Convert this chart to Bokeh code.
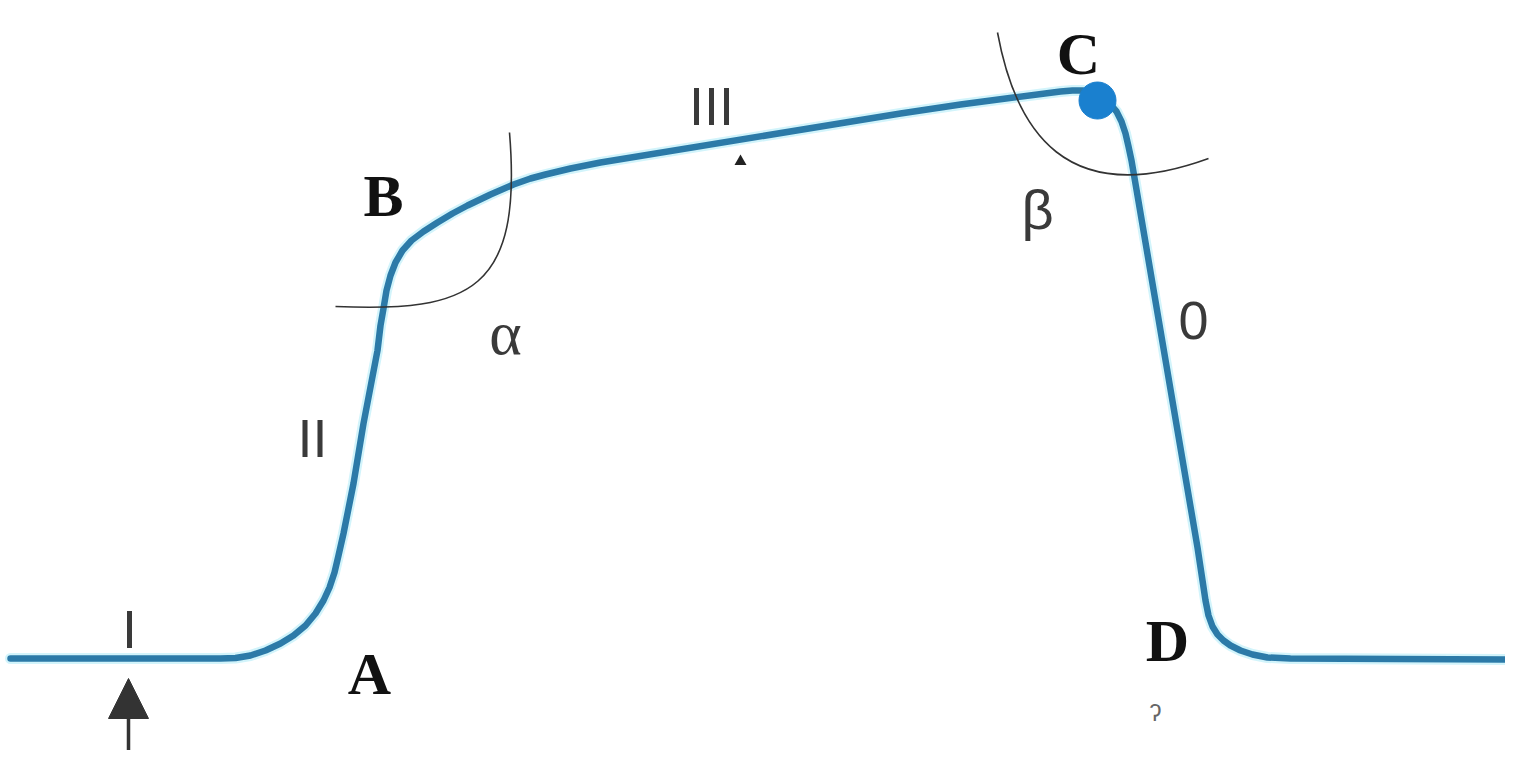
from bokeh.plotting import figure
from bokeh.models import Range1d, Arrow, NormalHead
from bokeh.core.properties import value
from bokeh.embed import file_html
from bokeh.resources import INLINE

# main trace (diagram coordinates, y grows downward)
curve_x = [10, 220, 235, 250, 265, 280, 293, 305, 315, 323, 329, 334, 338, 343, 353, 363,
           377, 380, 383, 386, 390, 395, 402, 411, 423, 437, 452, 467, 490, 513, 530, 545,
           570, 600, 900, 960, 1013, 1060, 1072, 1082, 1092, 1101, 1109, 1116, 1121, 1125,
           1128, 1131, 1137, 1177, 1197, 1202, 1205, 1208, 1212, 1217, 1223, 1230, 1240,
           1252, 1267, 1290, 1512]
curve_y = [658, 658, 657.5, 655, 650, 643, 635, 625, 613, 600, 587, 572, 555, 533, 483, 423,
           350, 325, 308, 290, 275, 262, 250, 240, 231, 222, 213, 205, 194, 184, 178, 174,
           168, 162, 113, 104, 97, 91, 90, 90, 92, 97, 103, 111, 121, 133,
           146, 160, 195, 430, 547, 580, 600, 615, 626, 634, 640, 645, 650,
           654, 657, 658, 659]

# end-tidal point C
dot_x = [1097]
dot_y = [100]

# angle arcs (cubic curves): alpha, beta
arc_x0 = [335, 997]
arc_y0 = [306, 32]
arc_x1 = [509, 1208]
arc_y1 = [132, 158]
arc_cx0 = [470, 1015]
arc_cy0 = [312, 130]
arc_cx1 = [522, 1065]
arc_cy1 = [290, 210]

# phase labels
phase_text = ["I", "II", "III", "0"]
phase_x = [129, 312, 711, 1193]
phase_y = [628, 437, 105, 320]

# point labels
point_text = ["A", "B", "C", "D"]
point_x = [369, 383, 1078, 1167]
point_y = [673, 195, 53, 640]

# angle labels
alpha_text = ["α"]
alpha_x = [505]
alpha_y = [332]
beta_text = ["β"]
beta_x = [1037]
beta_y = [209]

# start arrow
arrow_x = [128, 128]
arrow_y = [775, 678]

# small marks
mark_x = [740]
mark_y = [161]
q_text = ["ʔ"]
q_x = [1155]
q_y = [712]

p = figure(width=1505, height=750, output_backend="svg", toolbar_location=None,
           x_range=Range1d(0, 1505), y_range=Range1d(750, 0), min_border=0)
p.axis.visible = False
p.grid.visible = False
p.outline_line_color = None
p.background_fill_color = "white"
p.border_fill_color = "white"

# halo and trace
p.line(curve_x, curve_y, line_color="#d2f4fb", line_width=11, line_join="round", line_cap="round")
p.line(curve_x, curve_y, line_color="#2c7aa8", line_width=6.5, line_join="round", line_cap="round")
p.scatter(dot_x, dot_y, size=37, fill_color="#1a80cf", line_color="#1a80cf")

p.bezier(x0=arc_x0, y0=arc_y0, x1=arc_x1, y1=arc_y1,
         cx0=arc_cx0, cy0=arc_cy0, cx1=arc_cx1, cy1=arc_cy1,
         line_color="#333333", line_width=1.6)

p.text(phase_x, phase_y, text=phase_text, text_font=value("Liberation Sans"),
       text_font_size="54px", text_color="#3a3a3a", text_align="center",
       text_baseline="alphabetic")
p.text(point_x, point_y, text=point_text, text_font=value("Liberation Serif"),
       text_font_size="60px", text_font_style="bold", text_color="#111111",
       text_align="center", text_baseline="alphabetic")
p.text(alpha_x, alpha_y, text=alpha_text, text_font=value("Liberation Serif"),
       text_font_size="62px", text_color="#3a3a3a", text_align="center",
       text_baseline="alphabetic")
p.text(beta_x, beta_y, text=beta_text, text_font=value("Liberation Sans"),
       text_font_size="56px", text_color="#3a3a3a", text_align="center",
       text_baseline="alphabetic")

p.add_layout(Arrow(end=NormalHead(size=40, fill_color="#333333", line_color="#333333"),
                   x_start=arrow_x[0], y_start=arrow_y[0], x_end=arrow_x[1], y_end=arrow_y[1],
                   line_color="#333333", line_width=3.5))

p.scatter(mark_x, mark_y, marker="triangle", size=12, fill_color="#222222", line_color=None)
p.text(q_x, q_y, text=q_text, text_font=value("Liberation Sans"), text_font_size="24px",
       text_color="#666666", text_align="center", text_baseline="alphabetic")

open("out.html", "w").write(file_html(p, INLINE))
